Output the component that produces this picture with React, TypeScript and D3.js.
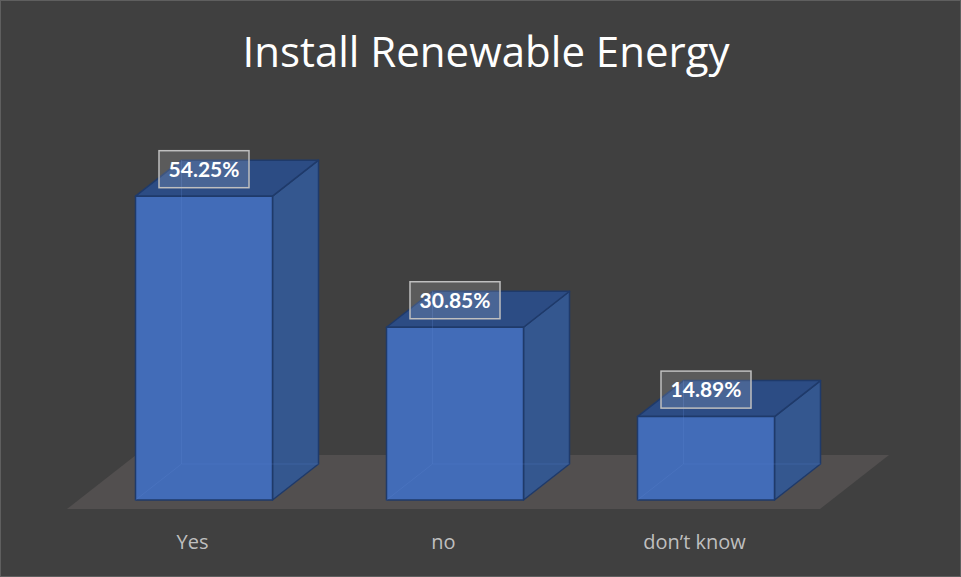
import React from 'react';
import * as d3 from 'd3';

const categories = ['Yes', 'no', 'don\u2019t know'];
const values = [54.25, 30.85, 14.89];
const valueLabels = ['54.25%', '30.85%', '14.89%'];

const W = 961;
const H = 577;
// depth offsets of the pseudo-3D boxes
const DX = 46;
const DY = -36;
const BAR_W = 137;

const App: React.FC = () => {
  const floorFrontY = 509;
  const floorBackY = 455;
  const x = d3.scaleBand<string>().domain(categories).range([67, 820]);
  const y = d3.scaleLinear().domain([0, 60]).range([500, 164]);

  // bar base sits part way into the floor
  const baseShift = (floorFrontY - 500) * (DX / -DY);
  const floorSlant = (floorFrontY - floorBackY) * (DX / -DY);

  const floor = d3.path();
  floor.moveTo(67, floorFrontY);
  floor.lineTo(820, floorFrontY);
  floor.lineTo(820 + floorSlant, floorBackY);
  floor.lineTo(67 + floorSlant, floorBackY);
  floor.closePath();

  return (
    <svg
      width={W}
      height={H}
      style={{ display: 'block', position: 'absolute', left: 0, top: 0, fontFamily: 'Lato, "Open Sans", sans-serif' }}
    >
      <rect x={0} y={0} width={W} height={H} fill="#404040" />
      <rect x={0.5} y={0.5} width={W - 1} height={H - 1} fill="none" stroke="#5f5f5f" />
      <text x={486} y={67} textAnchor="middle" fill="#ffffff" fontSize={42} fontFamily="'Open Sans', Lato, sans-serif">
        Install Renewable Energy
      </text>
      <path d={floor.toString()} fill="#524f4f" />
      {categories.map((c, i) => {
        const x0 = (x(c) as number) + x.bandwidth() / 2 - BAR_W / 2 + baseShift;
        const x1 = x0 + BAR_W;
        const yb = y(0);
        const yt = y(values[i]);
        const front = `M${x0},${yt}L${x1},${yt}L${x1},${yb}L${x0},${yb}Z`;
        const side = `M${x1},${yt}L${x1 + DX},${yt + DY}L${x1 + DX},${yb + DY}L${x1},${yb}Z`;
        const top = `M${x0},${yt}L${x0 + DX},${yt + DY}L${x1 + DX},${yt + DY}L${x1},${yt}Z`;
        const cx = (x0 + x1) / 2;
        const by = yt - 27;
        return (
          <g key={c}>
            <path d={side} fill="#34578f" stroke="#1f3a6a" strokeWidth={1.5} strokeLinejoin="round" />
            <path d={top} fill="#2c4c84" stroke="#1f3a6a" strokeWidth={1.5} strokeLinejoin="round" />
            <path d={front} fill="#426cb8" stroke="#1f3a6a" strokeWidth={1.5} strokeLinejoin="round" />
            <g stroke="#5a84cf" strokeOpacity={0.25} strokeWidth={1} fill="none">
              <line x1={x0 + DX} y1={yt + DY} x2={x0 + DX} y2={yb + DY} />
              <line x1={x0 + DX} y1={yb + DY} x2={x1 + DX} y2={yb + DY} />
              <line x1={x0} y1={yb} x2={x0 + DX} y2={yb + DY} />
            </g>
            <rect x={cx - 45} y={by - 18.5} width={90} height={37} fill="#ffffff" fillOpacity={0.14} stroke="#bfbfbf" strokeWidth={1.5} />
            <text x={cx} y={by + 7.5} textAnchor="middle" fill="#ffffff" fontSize={21} fontWeight={700}>
              {valueLabels[i]}
            </text>
            <text
              x={(x(c) as number) + x.bandwidth() / 2}
              y={549}
              textAnchor="middle"
              fill="#bfbfbf"
              fontSize={20}
              fontFamily="'Open Sans', Lato, sans-serif"
            >
              {c}
            </text>
          </g>
        );
      })}
    </svg>
  );
};

export default App;
